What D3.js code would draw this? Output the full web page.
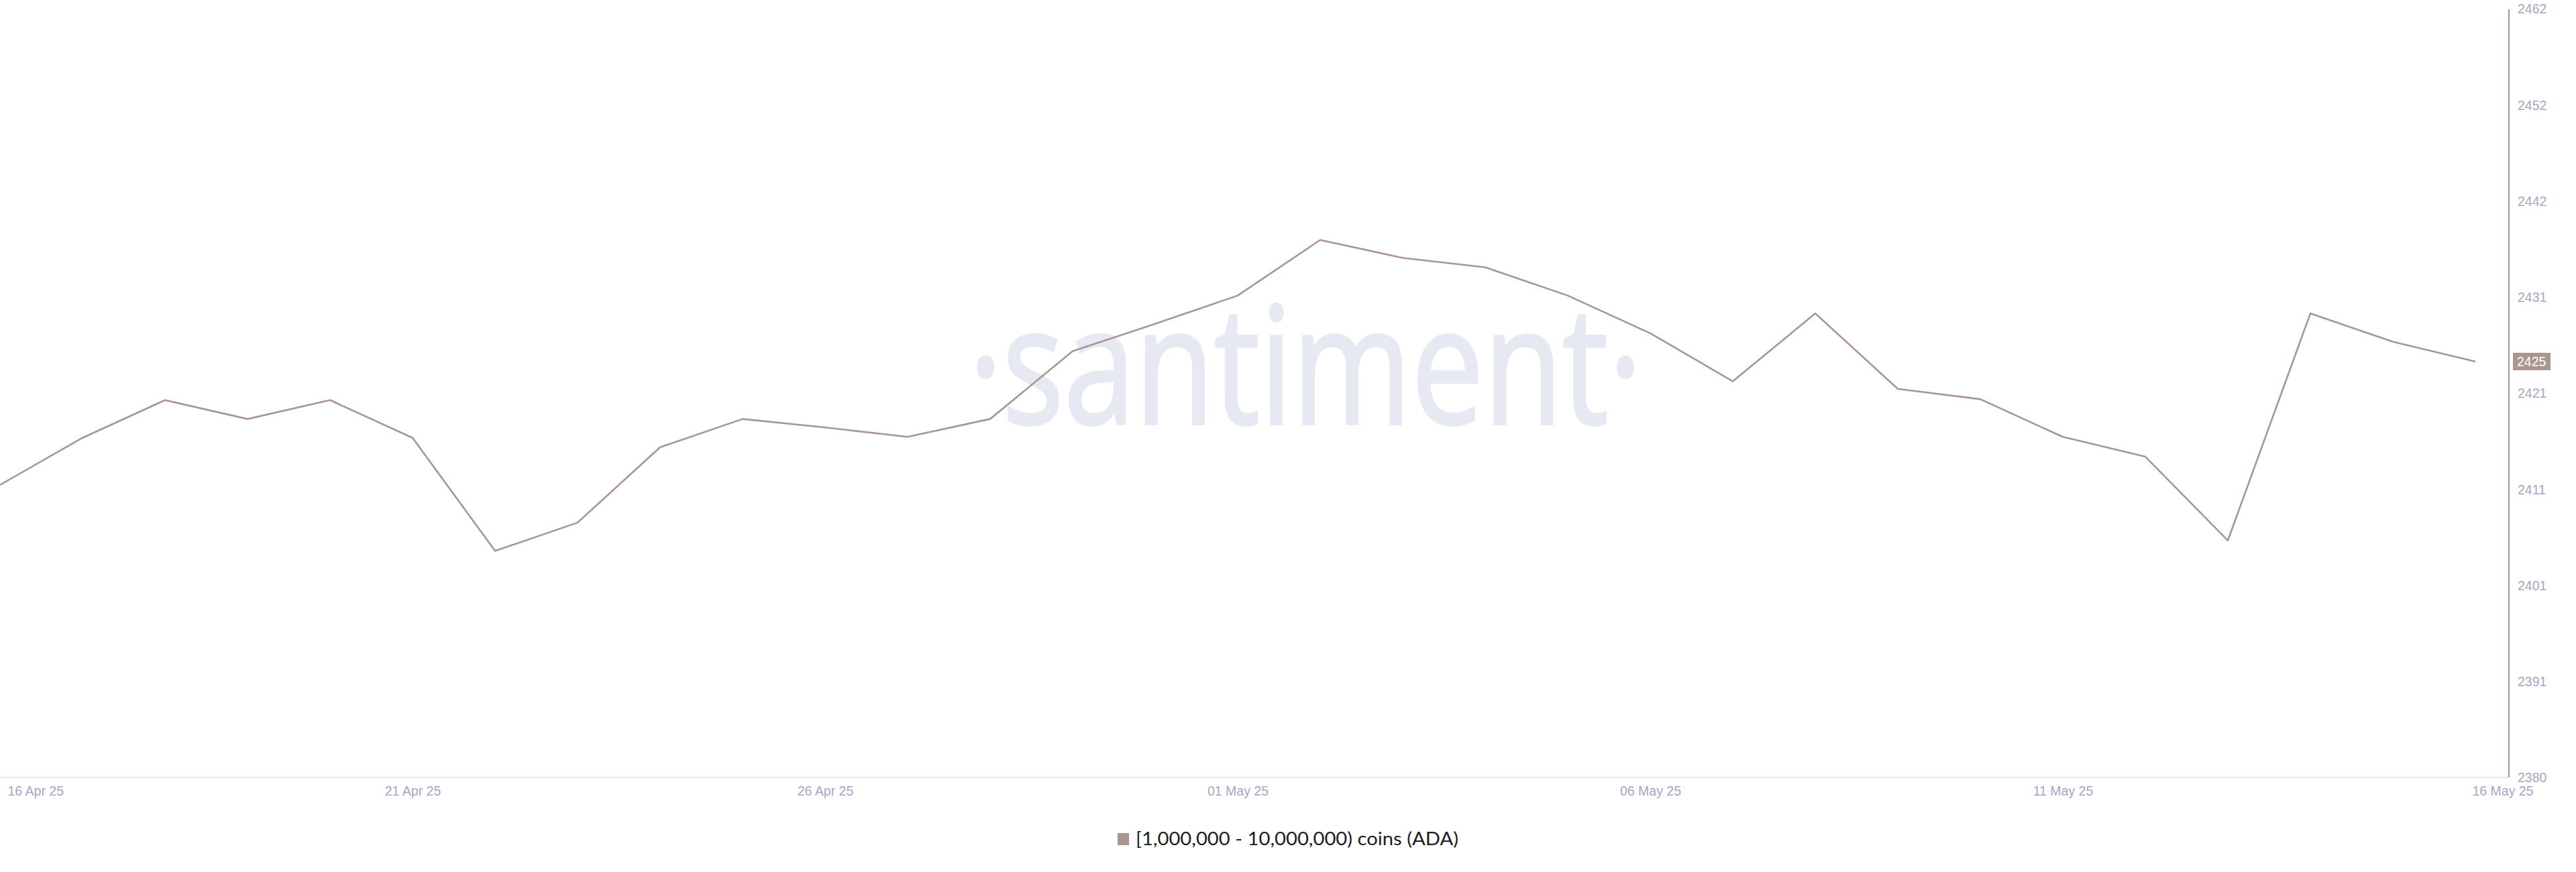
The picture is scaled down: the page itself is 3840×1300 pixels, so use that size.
<!DOCTYPE html>
<html>
<head>
<meta charset="utf-8">
<script src="https://cdn.jsdelivr.net/npm/d3@7"></script>
<style>
  html, body { margin: 0; padding: 0; background: #ffffff; }
  svg { display: block; }
</style>
</head>
<body>
<svg id="chart" width="3840" height="1300"></svg>
<script>
// ---- data ----
const startDate = "2025-04-16";
const holders = [
  2411.5, 2416.5, 2420.5, 2418.5, 2420.5, 2416.5, 2404.5, 2407.5, 2415.5, 2418.5,
  2417.6, 2416.6, 2418.5, 2425.7, 2428.6, 2431.6, 2437.5, 2435.6, 2434.6, 2431.6,
  2427.6, 2422.5, 2429.7, 2421.7, 2420.6, 2416.6, 2414.5, 2405.6, 2429.7, 2426.7,
  2424.6
];
const yTickValues = [2380.45, 2390.65, 2400.85, 2411.05, 2421.25, 2431.45, 2441.65, 2451.85, 2462.05];
const xTickDates = ["2025-04-16", "2025-04-21", "2025-04-26", "2025-05-01", "2025-05-06", "2025-05-11", "2025-05-16"];
const seriesName = "[1,000,000 - 10,000,000) coins (ADA)";
const watermark = "·santiment·";

// ---- setup ----
const parse = d3.utcParse("%Y-%m-%d");
const t0 = parse(startDate);
const points = holders.map((v, i) => ({ date: d3.utcDay.offset(t0, i), value: v }));

const plot = { left: 0, right: 3690, top: 13, bottom: 1159, axisX: 3740 };
const lineColor = "#a9968f";
const tickColor = "#a2a7c3";

const svg = d3.select("#chart");

const x = d3.scaleUtc()
  .domain([points[0].date, points[points.length - 1].date])
  .range([plot.left, plot.right]);
const y = d3.scaleLinear()
  .domain([yTickValues[0], yTickValues[yTickValues.length - 1]])
  .range([plot.bottom, plot.top]);

// watermark
svg.append("text")
  .attr("x", 1444)
  .attr("y", 632)
  .attr("textLength", 1004)
  .attr("lengthAdjust", "spacingAndGlyphs")
  .attr("font-family", "'Open Sans', 'Noto Sans', sans-serif")
  .attr("font-size", 243)
  .attr("fill", "#e6e9f1")
  .attr("stroke", "#e6e9f1")
  .attr("stroke-width", 4)
  .text(watermark);

// bottom baseline
svg.append("line")
  .attr("x1", 0).attr("x2", plot.axisX)
  .attr("y1", plot.bottom).attr("y2", plot.bottom)
  .attr("stroke", "#e8e8ea").attr("stroke-width", 2);

// right axis
const yAxis = d3.axisRight(y)
  .tickValues(yTickValues)
  .tickFormat(d3.format(".0f"))
  .tickSize(0)
  .tickPadding(13);
const yg = svg.append("g")
  .attr("transform", `translate(${plot.axisX},0)`)
  .call(yAxis);
yg.select(".domain")
  .attr("stroke", lineColor)
  .attr("stroke-width", 2.2)
  .attr("d", `M0,${y.range()[1] + 1}V${y.range()[0]}`);
yg.selectAll(".tick text")
  .attr("fill", tickColor)
  .attr("font-family", "'Liberation Sans', Arial, sans-serif")
  .attr("font-size", 19.5)
  .attr("dy", "0.35em");

// x axis labels
const xAxis = d3.axisBottom(x)
  .tickValues(xTickDates.map(parse))
  .tickFormat(d3.utcFormat("%d %b %y"))
  .tickSize(0)
  .tickPadding(13);
const xg = svg.append("g")
  .attr("transform", `translate(0,${plot.bottom})`)
  .call(xAxis);
xg.select(".domain").remove();
const nT = xTickDates.length;
xg.selectAll(".tick text")
  .attr("fill", tickColor)
  .attr("font-family", "'Liberation Sans', Arial, sans-serif")
  .attr("font-size", 19.5)
  .attr("text-anchor", (d, i) => (i === 0 || i === nT - 1) ? "start" : "middle")
  .attr("dx", (d, i) => i === 0 ? 11 : (i === nT - 1 ? -5 : 0));

// line
const line = d3.line().x(d => x(d.date)).y(d => y(d.value));
svg.append("path")
  .datum(points)
  .attr("fill", "none")
  .attr("stroke", lineColor)
  .attr("stroke-width", 2.6)
  .attr("stroke-linejoin", "round")
  .attr("d", line);

// last value label
const last = points[points.length - 1];
const ly = y(last.value);
const lg = svg.append("g").attr("transform", `translate(${plot.axisX + 6},${ly})`);
lg.append("rect")
  .attr("x", 0).attr("y", -13)
  .attr("width", 56).attr("height", 26)
  .attr("fill", lineColor);
lg.append("text")
  .attr("x", 6).attr("y", 0).attr("dy", "0.36em")
  .attr("fill", "#ffffff")
  .attr("font-family", "'Liberation Sans', Arial, sans-serif")
  .attr("font-size", 19.5)
  .text(d3.format(".0f")(last.value));

// legend
const leg = svg.append("g").attr("transform", "translate(1666,1251)");
leg.append("rect")
  .attr("x", 0).attr("y", -9)
  .attr("width", 17).attr("height", 18)
  .attr("fill", lineColor);
leg.append("text")
  .attr("x", 27).attr("y", 0).attr("dy", "0.35em")
  .attr("fill", "#1b1d22")
  .attr("font-family", "Lato, 'Open Sans', sans-serif")
  .attr("font-size", 27)
  .attr("textLength", 481)
  .attr("lengthAdjust", "spacingAndGlyphs")
  .text(seriesName);
</script>
</body>
</html>
